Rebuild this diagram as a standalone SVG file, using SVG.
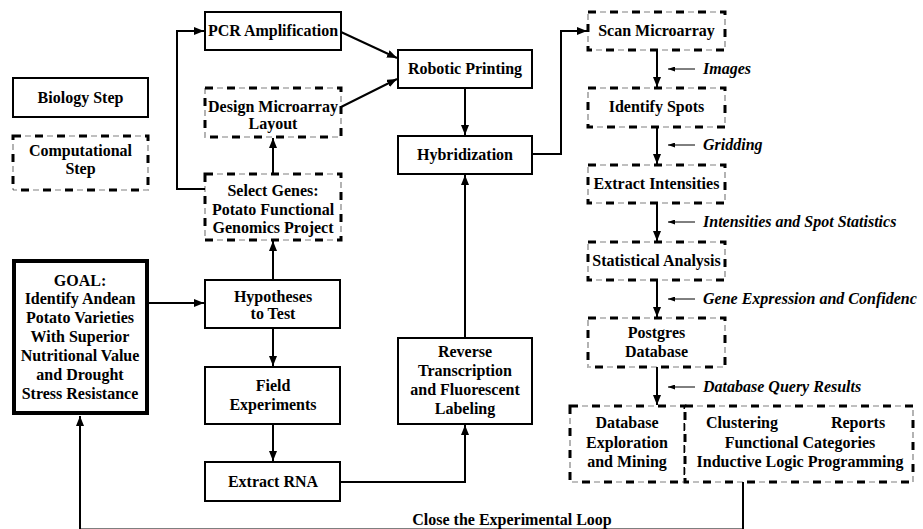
<svg xmlns="http://www.w3.org/2000/svg" width="923" height="529" viewBox="0 0 923 529">
<style>
text{font-family:"Liberation Serif","Times New Roman",serif;font-weight:bold;font-size:16px;fill:#000;text-anchor:middle}
.lbl{font-style:italic;text-anchor:start}
.bio{fill:#fff;stroke:#000;stroke-width:2}
.goal{fill:#fff;stroke:#000;stroke-width:4}
.ct{fill:none;stroke:#000;stroke-width:3;stroke-dasharray:8 14}
.cd{fill:#fff;stroke:#000;stroke-width:1.2;stroke-dasharray:0 12.5 1 1 1 1 1 4.5}
.conn{fill:none;stroke:#000;stroke-width:2}
.thin{fill:none;stroke:#000;stroke-width:1}
</style>
<defs>
<marker id="ah" viewBox="0 0 10 8" refX="10" refY="4" markerWidth="10" markerHeight="8" markerUnits="userSpaceOnUse" orient="auto"><path d="M0,0 L10,4 L0,8 z" fill="#000"/></marker>
<marker id="sa" viewBox="0 0 7 5" refX="7" refY="2.5" markerWidth="7" markerHeight="5" markerUnits="userSpaceOnUse" orient="auto"><path d="M0,0 L7,2.5 L0,5 z" fill="#000"/></marker>
</defs>

<g id="connectors">
<path class="conn" d="M205,189 H177 V31 H204" marker-end="url(#ah)"/>
<path class="conn" d="M273,174 V138" marker-end="url(#ah)"/>
<path class="conn" d="M273,280 V241" marker-end="url(#ah)"/>
<path class="conn" d="M341,32 L397,58" marker-end="url(#ah)"/>
<path class="conn" d="M341,107 L397,79" marker-end="url(#ah)"/>
<path class="conn" d="M465,88 V135" marker-end="url(#ah)"/>
<path class="conn" d="M465,338 V175" marker-end="url(#ah)"/>
<path class="conn" d="M340,482 H465 V425" marker-end="url(#ah)"/>
<path class="conn" d="M532,154 H561 V31 H587" marker-end="url(#ah)"/>
<path class="conn" d="M149,303 H204" marker-end="url(#ah)"/>
<path class="conn" d="M273,328 V366" marker-end="url(#ah)"/>
<path class="conn" d="M273,424 V461" marker-end="url(#ah)"/>
<path class="conn" d="M657,50 V87" marker-end="url(#ah)"/>
<path class="conn" d="M657,127 V164" marker-end="url(#ah)"/>
<path class="conn" d="M657,203 V241" marker-end="url(#ah)"/>
<path class="conn" d="M657,280 V317" marker-end="url(#ah)"/>
<path class="conn" d="M657,367 V405" marker-end="url(#ah)"/>
<path class="conn" d="M743,482 V529.5 H80 V416" marker-end="url(#ah)"/>
<path class="thin" d="M695,69 H668" marker-end="url(#sa)"/>
<path class="thin" d="M695,145 H668" marker-end="url(#sa)"/>
<path class="thin" d="M695,222 H668" marker-end="url(#sa)"/>
<path class="thin" d="M695,299 H668" marker-end="url(#sa)"/>
<path class="thin" d="M695,387 H668" marker-end="url(#sa)"/>
<text class="lbl" x="703" y="74">Images</text>
<text class="lbl" x="703" y="150">Gridding</text>
<text class="lbl" x="703" y="227">Intensities and Spot Statistics</text>
<text class="lbl" x="703" y="304">Gene Expression and Confidenc</text>
<text class="lbl" x="703" y="392">Database Query Results</text>
<text x="512" y="525">Close the Experimental Loop</text>
</g>

<g id="legend-bio"><rect class="bio" x="13" y="78" width="135" height="39"/><text x="80.5" y="103">Biology Step</text></g>
<g id="legend-comp"><rect class="cd" x="13" y="136" width="135" height="54"/><rect class="ct" x="13" y="136" width="135" height="54"/><text x="80.5" y="156">Computational</text><text x="80.5" y="174">Step</text></g>

<g id="pcr"><rect class="bio" x="205" y="12" width="136" height="38"/><text x="273" y="36">PCR Amplification</text></g>
<g id="design"><rect class="cd" x="205" y="88" width="136" height="49"/><rect class="ct" x="205" y="88" width="136" height="49"/><text x="273" y="112">Design Microarray</text><text x="273" y="129">Layout</text></g>
<g id="select"><rect class="cd" x="205" y="174" width="136" height="66"/><rect class="ct" x="205" y="174" width="136" height="66"/><text x="273" y="196">Select Genes:</text><text x="273" y="215">Potato Functional</text><text x="273" y="233">Genomics Project</text></g>

<g id="goal"><rect class="goal" x="14" y="261" width="133" height="152"/>
<text x="80" y="286">GOAL:</text><text x="80" y="304">Identify Andean</text><text x="80" y="323">Potato Varieties</text><text x="80" y="342">With Superior</text><text x="80" y="361">Nutritional Value</text><text x="80" y="380">and Drought</text><text x="80" y="399">Stress Resistance</text></g>

<g id="hypotheses"><rect class="bio" x="205" y="280" width="135" height="48"/><text x="273" y="302">Hypotheses</text><text x="273" y="319">to Test</text></g>
<g id="field"><rect class="bio" x="205" y="367" width="135" height="57"/><text x="273" y="391">Field</text><text x="273" y="410">Experiments</text></g>
<g id="rna"><rect class="bio" x="205" y="462" width="135" height="39"/><text x="273" y="487">Extract RNA</text></g>

<g id="robotic"><rect class="bio" x="398" y="50" width="134" height="38"/><text x="465" y="74">Robotic Printing</text></g>
<g id="hybrid"><rect class="bio" x="398" y="136" width="134" height="38"/><text x="465" y="160">Hybridization</text></g>
<g id="reverse"><rect class="bio" x="398" y="338" width="134" height="86"/><text x="465" y="357">Reverse</text><text x="465" y="376">Transcription</text><text x="465" y="395">and Fluorescent</text><text x="465" y="414">Labeling</text></g>

<g id="scan"><rect class="cd" x="588" y="12" width="137" height="38"/><rect class="ct" x="588" y="12" width="137" height="38"/><text x="656.5" y="36">Scan Microarray</text></g>
<g id="spots"><rect class="cd" x="588" y="88" width="137" height="39"/><rect class="ct" x="588" y="88" width="137" height="39"/><text x="656.5" y="112">Identify Spots</text></g>
<g id="intens"><rect class="cd" x="588" y="165" width="137" height="38"/><rect class="ct" x="588" y="165" width="137" height="38"/><text x="656.5" y="189">Extract Intensities</text></g>
<g id="stats"><rect class="cd" x="588" y="242" width="137" height="38"/><rect class="ct" x="588" y="242" width="137" height="38"/><text x="656.5" y="266">Statistical Analysis</text></g>
<g id="postgres"><rect class="cd" x="588" y="318" width="137" height="49"/><rect class="ct" x="588" y="318" width="137" height="49"/><text x="656.5" y="338">Postgres</text><text x="656.5" y="357">Database</text></g>
<g id="explore"><rect class="cd" x="570" y="406" width="115" height="76"/><rect class="ct" x="570" y="406" width="115" height="76"/><text x="627" y="428">Database</text><text x="627" y="448">Exploration</text><text x="627" y="467">and Mining</text></g>
<g id="analysis"><rect class="cd" x="685" y="406" width="228" height="76"/><rect class="ct" x="685" y="406" width="228" height="76"/><text x="742" y="428">Clustering</text><text x="858" y="428">Reports</text><text x="800" y="448">Functional Categories</text><text x="800" y="467">Inductive Logic Programming</text></g>
</svg>
